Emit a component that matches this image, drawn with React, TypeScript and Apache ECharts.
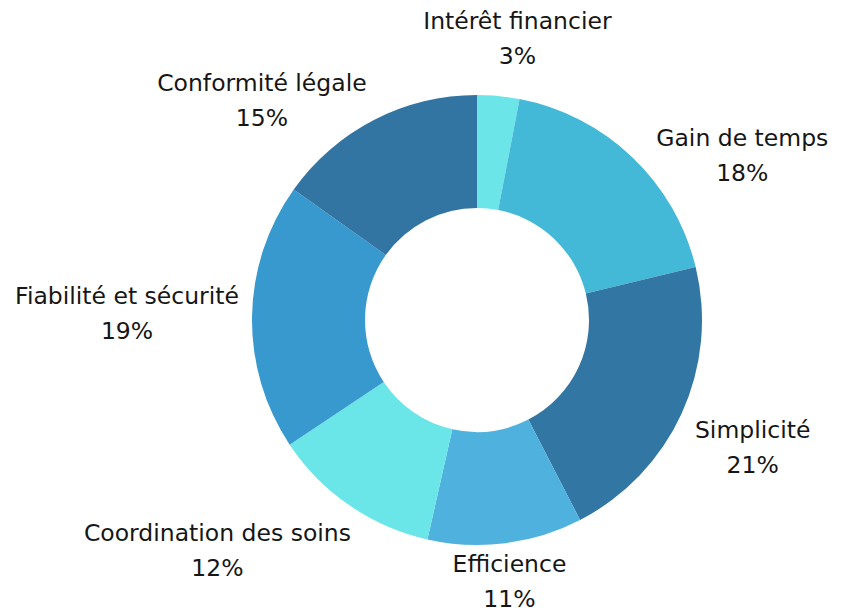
import React, { useEffect, useRef } from "react";
import * as echarts from "echarts";

const categories = [
  "Intérêt financier",
  "Gain de temps",
  "Simplicité",
  "Efficience",
  "Coordination des soins",
  "Fiabilité et sécurité",
  "Conformité légale",
];
const values = [3, 18, 21, 11, 12, 19, 15];
const colors = ["#6be5e8", "#43b8d7", "#3276a3", "#4fb1dd", "#6ae5e8", "#3899cf", "#3274a2"];

// layout constants (not data)
const CX = 477;
const CY = 320;
const R_OUT = 225;
const R_IN = 112;
// label block centre offset from the slice's outer mid-point
const labelOffsets: [number, number][] = [
  [19, -58],
  [110, -2],
  [71, 34],
  [4, 38],
  [-132, 45],
  [-125, -3],
  [-112, -20],
];

export default function App() {
  const ref = useRef<HTMLDivElement>(null);
  useEffect(() => {
    document.body.style.margin = "0";
    const chart = echarts.init(ref.current!, null, { renderer: "svg" });
    const total = values.reduce((a, b) => a + b, 0);
    const mids: number[] = [];
    let acc = 0;
    values.forEach((v) => {
      mids.push(((acc + v / 2) / total) * Math.PI * 2);
      acc += v;
    });
    chart.setOption({
      animation: false,
      textStyle: { fontFamily: "DejaVu Sans" },
      series: [
        {
          type: "pie",
          center: [CX, CY],
          radius: [R_IN, R_OUT],
          startAngle: 90,
          clockwise: true,
          data: categories.map((c, i) => ({ name: c, value: values[i], itemStyle: { color: colors[i] } })),
          label: {
            show: true,
            position: "outside",
            formatter: (p: any) => `${p.name}\n${p.value}%`,
            fontSize: 23.5,
            lineHeight: 35,
            color: "#161616",
            fontFamily: "DejaVu Sans",
            align: "center",
            overflow: "none",
            alignTo: "none",
            bleedMargin: 0,
          },
          labelLine: { show: false },
          labelLayout: (p: any) => {
            const a = mids[p.dataIndex];
            const x = CX + R_OUT * Math.sin(a) + labelOffsets[p.dataIndex][0];
            const y = CY - R_OUT * Math.cos(a) + labelOffsets[p.dataIndex][1];
            return { x, y, align: "center", verticalAlign: "middle" };
          },
          emphasis: { disabled: true },
        },
      ],
    });
    return () => chart.dispose();
  }, []);
  return <div ref={ref} style={{ width: 844, height: 614 }} />;
}
